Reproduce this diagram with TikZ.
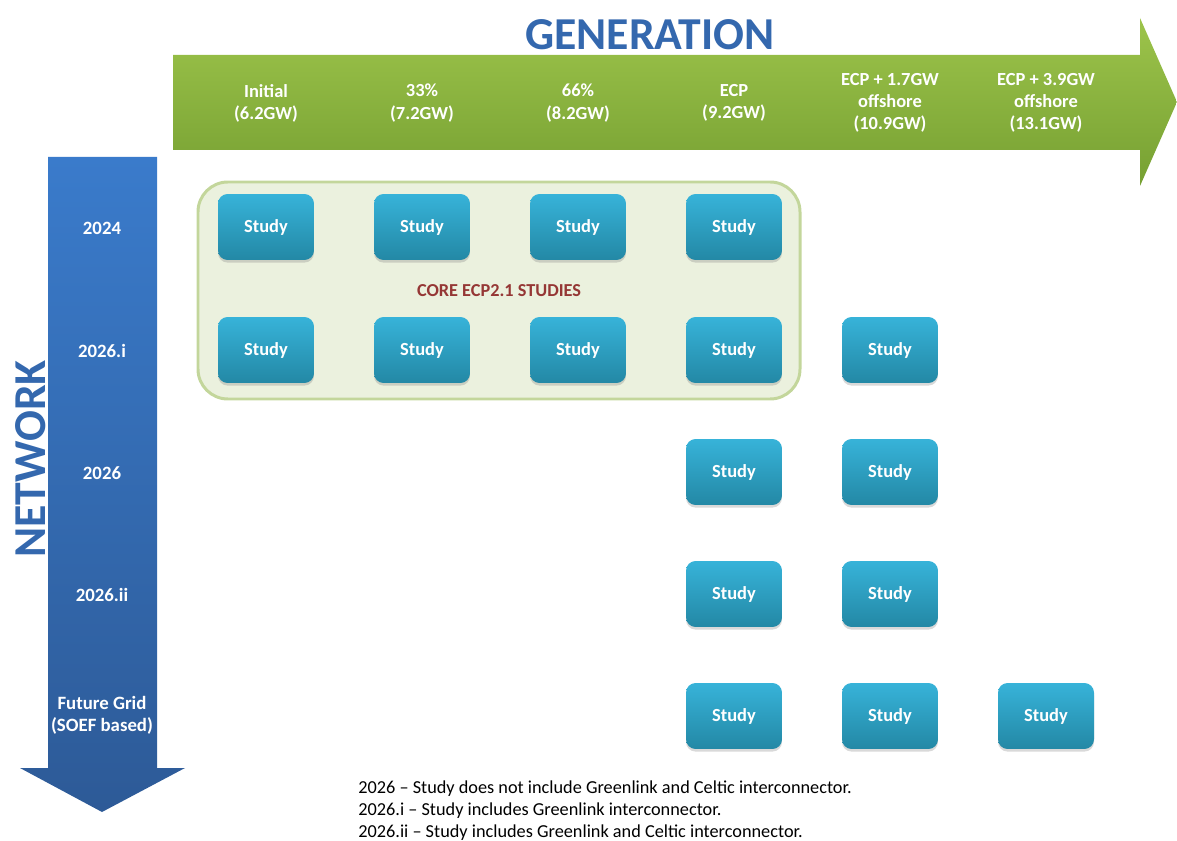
\documentclass[tikz,border=0pt]{standalone}
\usepackage{fontspec}
\setmainfont{Carlito}
\usetikzlibrary{shadows}
\definecolor{genTop}{HTML}{9DC44B}
\definecolor{genBot}{HTML}{76A032}
\definecolor{netTop}{HTML}{3A7BCB}
\definecolor{netBot}{HTML}{2D5A97}
\definecolor{studyTop}{HTML}{37B3D9}
\definecolor{studyBot}{HTML}{2388A5}
\definecolor{coreFill}{HTML}{EBF1DE}
\definecolor{coreLine}{HTML}{C3D69B}
\definecolor{coreText}{HTML}{953735}
\definecolor{titleBlue}{HTML}{3468AE}
\tikzset{
	study/.style={rounded corners=5.5pt, minimum width=1.92cm, minimum height=1.32cm,
		top color=studyTop, bottom color=studyBot, draw=none, text=white,
		font=\fontsize{10.5}{12}\selectfont\bfseries,
		drop shadow={shadow xshift=0pt, shadow yshift=-1.5pt, opacity=0.3}},
	genlabel/.style={text=white, align=center, font=\fontsize{10.5}{12.6}\selectfont\bfseries},
	netlabel/.style={text=white, align=center, font=\fontsize{10.7}{12.6}\selectfont\bfseries},
}

\begin{document}
\begin{tikzpicture}[x=0.02cm, y=-0.02cm]
		%%%%% FRAME %%%%%
		\useasboundingbox (0,0) rectangle (1177,841);
		
		%%%%% GENERATION ARROW %%%%%
		\shade[top color=genTop, bottom color=genBot] (173,55) -- (1140,55) -- (1140,18) -- (1177,102) -- (1140,186) -- (1140,150) -- (173,150) -- cycle;
		\node[text=titleBlue, font=\fontsize{26}{28}\selectfont\bfseries] (gentitle) at (650,35) {GENERATION};
		
		\node[genlabel] (gen1) at (266,103) {Initial\\(6.2GW)};
		\node[genlabel] (gen2) at (422,103) {33\%\\(7.2GW)};
		\node[genlabel] (gen3) at (578,103) {66\%\\(8.2GW)};
		\node[genlabel] (gen4) at (734,103) {ECP\\(9.2GW)};
		\node[genlabel] (gen5) at (890,103) {ECP + 1.7GW\\offshore\\(10.9GW)};
		\node[genlabel] (gen6) at (1046,103) {ECP + 3.9GW\\offshore\\(13.1GW)};
		
		%%%%% NETWORK ARROW %%%%%
		\shade[top color=netTop, bottom color=netBot] (48,157) -- (157,157) -- (157,768) -- (185,768) -- (102,812) -- (20,768) -- (48,768) -- cycle;
		\node[text=titleBlue, rotate=90, font=\fontsize{26}{28}\selectfont\bfseries] (nettitle) at (31,459) {NETWORK};
		
		\node[netlabel] (net1) at (102,228) {2024};
		\node[netlabel] (net2) at (102,351) {2026.i};
		\node[netlabel] (net3) at (102,473) {2026};
		\node[netlabel] (net4) at (102,595) {2026.ii};
		\node[netlabel] (net5) at (102,715) {Future Grid\\(SOEF based)};
		
		%%%%% CORE STUDIES %%%%%
		\draw[fill=coreFill, draw=coreLine, line width=1.7pt, rounded corners=17pt] (198,182) rectangle (800,399);
		\node[text=coreText, font=\fontsize{10.4}{12}\selectfont\bfseries] (core) at (499,291) {CORE ECP2.1 STUDIES};
		
		%%%%% STUDIES %%%%%
		\node[study] (s11) at (266,227) {Study};
		\node[study] (s12) at (422,227) {Study};
		\node[study] (s13) at (578,227) {Study};
		\node[study] (s14) at (734,227) {Study};
		
		\node[study] (s21) at (266,350) {Study};
		\node[study] (s22) at (422,350) {Study};
		\node[study] (s23) at (578,350) {Study};
		\node[study] (s24) at (734,350) {Study};
		\node[study] (s25) at (890,350) {Study};
		
		\node[study] (s34) at (734,472) {Study};
		\node[study] (s35) at (890,472) {Study};
		
		\node[study] (s44) at (734,594) {Study};
		\node[study] (s45) at (890,594) {Study};
		
		\node[study] (s54) at (734,716) {Study};
		\node[study] (s55) at (890,716) {Study};
		\node[study] (s56) at (1046,716) {Study};
		
		%%%%% NOTES %%%%%
		\node[anchor=west, align=left, font=\fontsize{10.4}{12.5}\selectfont, inner sep=0pt] (notes) at (358,811) {2026 -- Study does not include Greenlink and Celtic interconnector.\\2026.i -- Study includes Greenlink interconnector.\\2026.ii -- Study includes Greenlink and Celtic interconnector.};
		%%%%% END %%%%%
	\end{tikzpicture}
\end{document}
